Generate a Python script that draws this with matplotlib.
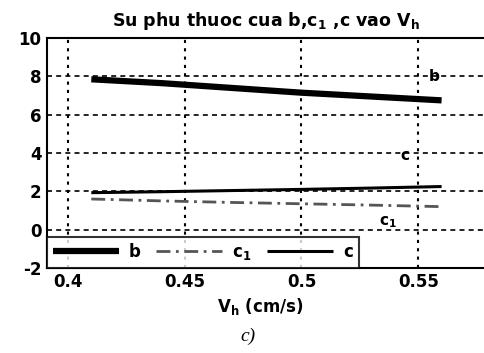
import numpy as np
import matplotlib.pyplot as plt

vh = [0.41, 0.44, 0.47, 0.50, 0.53, 0.56]
b = [7.85, 7.65, 7.4, 7.15, 6.95, 6.75]
c1 = [1.6, 1.5, 1.42, 1.35, 1.28, 1.2]
c = [1.93, 1.98, 2.04, 2.1, 2.17, 2.25]

plt.rcParams['font.family'] = ['DejaVu Sans']
plt.rcParams['mathtext.fontset'] = 'dejavusans'
plt.rcParams['axes.unicode_minus'] = False

fig = plt.figure(figsize=(4.84, 3.53), dpi=100)
ax = fig.add_axes([0.097, 0.241, 0.936, 0.651])

ax.plot(vh, b, color='black', lw=4.5, solid_capstyle='butt', label='b')
ax.plot(vh, c1, color='#555555', lw=2, ls=(0, (5, 2, 1, 2)), label='$\\mathbf{c_1}$')
ax.plot(vh, c, color='black', lw=2.2, solid_capstyle='butt', label='c')

ax.set_xlim(0.391, 0.585)
ax.set_ylim(-2, 10)
ax.set_xticks([0.4, 0.45, 0.5, 0.55])
ax.set_xticklabels(['0.4', '0.45', '0.5', '0.55'])
ax.set_yticks([-2, 0, 2, 4, 6, 8, 10])
ax.xaxis.grid(True, color='black', ls=(0, (1.5, 2.5)), lw=1.5)
ax.yaxis.grid(True, color='black', ls=(0, (3, 2.5)), lw=1.2)
ax.tick_params(labelsize=12, length=0, pad=4)
for lab in ax.get_xticklabels() + ax.get_yticklabels():
    lab.set_fontweight('bold')
for s in ax.spines.values():
    s.set_linewidth(1.5)

ax.text(0.5545, 8.0, 'b', fontsize=11, fontweight='bold', va='center')
ax.text(0.5425, 3.85, 'c', fontsize=11, fontweight='bold', va='center')
ax.text(0.533, 0.4, '$\\mathbf{c_1}$', fontsize=11, va='center')

ax.set_title('Su phu thuoc cua b,$\\mathbf{c_1}$ ,c vao $\\mathbf{V_h}$',
             fontsize=12.5, fontweight='bold', pad=9, x=0.483)
ax.set_xlabel('$\\mathbf{V_h}$ (cm/s)', fontsize=12, fontweight='bold', labelpad=3, x=0.47)

leg = ax.legend(loc='lower left', ncol=3, frameon=True, fancybox=False,
                edgecolor='black', borderaxespad=0, handlelength=3.95,
                columnspacing=0.95, handletextpad=0.6, borderpad=0.35,
                prop={'weight': 'bold', 'size': 12})
leg.get_frame().set_linewidth(1.5)

fig.text(0.512, 0.035, 'c)', fontsize=14, style='italic', family='Liberation Serif', ha='center')

fig.savefig('out.png', dpi=100)
